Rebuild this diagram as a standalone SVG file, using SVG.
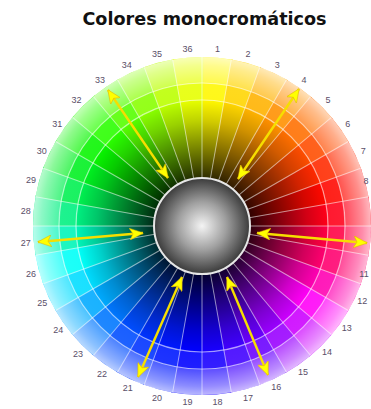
<svg xmlns="http://www.w3.org/2000/svg" xmlns:xlink="http://www.w3.org/1999/xlink" width="371" height="409" viewBox="0 0 371 409">
<style>
.lbl{font-family:"Liberation Sans",Arial,sans-serif;font-size:9px;fill:#5a4e68;text-anchor:middle}
.title{font-family:"DejaVu Sans",Verdana,sans-serif;font-weight:bold;font-size:17.6px;fill:#111;text-anchor:middle}
.spoke{stroke:#fff;stroke-opacity:.55;stroke-width:1}
.ring{fill:none;stroke:#fff;stroke-opacity:.6;stroke-width:1.2}
.shaft{stroke:#f6de00;stroke-width:2.4;fill:none;marker-start:url(#ah);marker-end:url(#ah)}
</style>
<defs>
<path id="w" d="M202,226 L202,57 A169,169 0 0 1 232.8,59.8 Z"/>
<line id="sp" x1="202" y1="178" x2="202" y2="57"/>
<radialGradient id="shade" gradientUnits="userSpaceOnUse" cx="202" cy="226" r="169">
<stop offset="0.284" stop-color="#000" stop-opacity="0.82"/>
<stop offset="0.45" stop-color="#000" stop-opacity="0.5"/>
<stop offset="0.62" stop-color="#000" stop-opacity="0.18"/>
<stop offset="0.745" stop-color="#000" stop-opacity="0"/>
<stop offset="0.746" stop-color="#fff" stop-opacity="0.1"/>
<stop offset="0.845" stop-color="#fff" stop-opacity="0.12"/>
<stop offset="0.847" stop-color="#fff" stop-opacity="0.3"/>
<stop offset="0.95" stop-color="#fff" stop-opacity="0.55"/>
<stop offset="1" stop-color="#fff" stop-opacity="0.72"/>
</radialGradient>
<radialGradient id="ball" cx="0.5" cy="0.5" r="0.5">
<stop offset="0" stop-color="#f4f4f4"/>
<stop offset="0.5" stop-color="#a0a0a0"/>
<stop offset="1" stop-color="#3a3a3a"/>
</radialGradient>
<marker id="ah" markerUnits="userSpaceOnUse" markerWidth="14" markerHeight="12" viewBox="0 0 14 12" refX="13.5" refY="6" orient="auto-start-reverse">
<path d="M0,0 L14,6 L0,12 L3.5,6 Z" fill="#ffff00" stroke="#e0b000" stroke-width="0.5"/>
</marker>
</defs>
<rect width="371" height="409" fill="#fff"/>
<text class="title" x="204.5" y="25">Colores monocromáticos</text>
<g id="wheel">
<use xlink:href="#w" fill="hsl(58,100%,50%)" transform="rotate(0 202 226)"/>
<use xlink:href="#w" fill="hsl(50,100%,50%)" transform="rotate(10 202 226)"/>
<use xlink:href="#w" fill="hsl(42,100%,50%)" transform="rotate(20 202 226)"/>
<use xlink:href="#w" fill="hsl(34,100%,50%)" transform="rotate(30 202 226)"/>
<use xlink:href="#w" fill="hsl(26,100%,50%)" transform="rotate(40 202 226)"/>
<use xlink:href="#w" fill="hsl(18,100%,50%)" transform="rotate(50 202 226)"/>
<use xlink:href="#w" fill="hsl(10,100%,50%)" transform="rotate(60 202 226)"/>
<use xlink:href="#w" fill="hsl(2,100%,50%)" transform="rotate(70 202 226)"/>
<use xlink:href="#w" fill="hsl(354,100%,50%)" transform="rotate(80 202 226)"/>
<use xlink:href="#w" fill="hsl(344,100%,50%)" transform="rotate(90 202 226)"/>
<use xlink:href="#w" fill="hsl(334,100%,50%)" transform="rotate(100 202 226)"/>
<use xlink:href="#w" fill="hsl(318,100%,50%)" transform="rotate(110 202 226)"/>
<use xlink:href="#w" fill="hsl(302,100%,50%)" transform="rotate(120 202 226)"/>
<use xlink:href="#w" fill="hsl(288,100%,50%)" transform="rotate(130 202 226)"/>
<use xlink:href="#w" fill="hsl(276,100%,50%)" transform="rotate(140 202 226)"/>
<use xlink:href="#w" fill="hsl(265,100%,50%)" transform="rotate(150 202 226)"/>
<use xlink:href="#w" fill="hsl(255,100%,50%)" transform="rotate(160 202 226)"/>
<use xlink:href="#w" fill="hsl(246,100%,50%)" transform="rotate(170 202 226)"/>
<use xlink:href="#w" fill="hsl(240,100%,50%)" transform="rotate(180 202 226)"/>
<use xlink:href="#w" fill="hsl(234,100%,50%)" transform="rotate(190 202 226)"/>
<use xlink:href="#w" fill="hsl(228,100%,50%)" transform="rotate(200 202 226)"/>
<use xlink:href="#w" fill="hsl(222,100%,50%)" transform="rotate(210 202 226)"/>
<use xlink:href="#w" fill="hsl(212,100%,50%)" transform="rotate(220 202 226)"/>
<use xlink:href="#w" fill="hsl(200,100%,50%)" transform="rotate(230 202 226)"/>
<use xlink:href="#w" fill="hsl(188,100%,50%)" transform="rotate(240 202 226)"/>
<use xlink:href="#w" fill="hsl(178,100%,50%)" transform="rotate(250 202 226)"/>
<use xlink:href="#w" fill="hsl(165,100%,48%)" transform="rotate(260 202 226)"/>
<use xlink:href="#w" fill="hsl(152,100%,47%)" transform="rotate(270 202 226)"/>
<use xlink:href="#w" fill="hsl(140,100%,47%)" transform="rotate(280 202 226)"/>
<use xlink:href="#w" fill="hsl(128,100%,47%)" transform="rotate(290 202 226)"/>
<use xlink:href="#w" fill="hsl(118,100%,48%)" transform="rotate(300 202 226)"/>
<use xlink:href="#w" fill="hsl(110,100%,50%)" transform="rotate(310 202 226)"/>
<use xlink:href="#w" fill="hsl(100,100%,50%)" transform="rotate(320 202 226)"/>
<use xlink:href="#w" fill="hsl(88,100%,50%)" transform="rotate(330 202 226)"/>
<use xlink:href="#w" fill="hsl(76,100%,50%)" transform="rotate(340 202 226)"/>
<use xlink:href="#w" fill="hsl(66,100%,50%)" transform="rotate(350 202 226)"/>
<circle cx="202" cy="226" r="169" fill="url(#shade)"/>
<g class="spoke">
<use xlink:href="#sp" transform="rotate(0 202 226)"/><use xlink:href="#sp" transform="rotate(10 202 226)"/><use xlink:href="#sp" transform="rotate(20 202 226)"/><use xlink:href="#sp" transform="rotate(30 202 226)"/><use xlink:href="#sp" transform="rotate(40 202 226)"/><use xlink:href="#sp" transform="rotate(50 202 226)"/><use xlink:href="#sp" transform="rotate(60 202 226)"/><use xlink:href="#sp" transform="rotate(70 202 226)"/><use xlink:href="#sp" transform="rotate(80 202 226)"/><use xlink:href="#sp" transform="rotate(90 202 226)"/><use xlink:href="#sp" transform="rotate(100 202 226)"/><use xlink:href="#sp" transform="rotate(110 202 226)"/><use xlink:href="#sp" transform="rotate(120 202 226)"/><use xlink:href="#sp" transform="rotate(130 202 226)"/><use xlink:href="#sp" transform="rotate(140 202 226)"/><use xlink:href="#sp" transform="rotate(150 202 226)"/><use xlink:href="#sp" transform="rotate(160 202 226)"/><use xlink:href="#sp" transform="rotate(170 202 226)"/><use xlink:href="#sp" transform="rotate(180 202 226)"/><use xlink:href="#sp" transform="rotate(190 202 226)"/><use xlink:href="#sp" transform="rotate(200 202 226)"/><use xlink:href="#sp" transform="rotate(210 202 226)"/><use xlink:href="#sp" transform="rotate(220 202 226)"/><use xlink:href="#sp" transform="rotate(230 202 226)"/><use xlink:href="#sp" transform="rotate(240 202 226)"/><use xlink:href="#sp" transform="rotate(250 202 226)"/><use xlink:href="#sp" transform="rotate(260 202 226)"/><use xlink:href="#sp" transform="rotate(270 202 226)"/><use xlink:href="#sp" transform="rotate(280 202 226)"/><use xlink:href="#sp" transform="rotate(290 202 226)"/><use xlink:href="#sp" transform="rotate(300 202 226)"/><use xlink:href="#sp" transform="rotate(310 202 226)"/><use xlink:href="#sp" transform="rotate(320 202 226)"/><use xlink:href="#sp" transform="rotate(330 202 226)"/><use xlink:href="#sp" transform="rotate(340 202 226)"/><use xlink:href="#sp" transform="rotate(350 202 226)"/>
</g>
<circle class="ring" cx="202" cy="226" r="126"/>
<circle class="ring" cx="202" cy="226" r="143"/>
</g>
<g id="sphere">
<circle cx="202" cy="226" r="48" fill="url(#ball)" stroke="#e6e6e6" stroke-width="2"/>
</g>
<g id="connectors">
<line class="shaft" x1="108" y1="90" x2="168" y2="178"/>
<line class="shaft" x1="299" y1="89" x2="238" y2="179"/>
<line class="shaft" x1="38" y1="242" x2="143" y2="233"/>
<line class="shaft" x1="257" y1="233" x2="367" y2="243"/>
<line class="shaft" x1="182" y1="277" x2="138" y2="377"/>
<line class="shaft" x1="227" y1="277" x2="268" y2="375"/>
</g>
<g id="labels">
<text class="lbl" x="217.5" y="51.7">1</text>
<text class="lbl" x="248.1" y="57.1">2</text>
<text class="lbl" x="277.2" y="67.7">3</text>
<text class="lbl" x="304.1" y="83.2">4</text>
<text class="lbl" x="327.9" y="103.1">5</text>
<text class="lbl" x="347.8" y="126.9">6</text>
<text class="lbl" x="363.3" y="153.8">7</text>
<text class="lbl" x="366" y="184">8</text>
<text class="lbl" x="364" y="277">11</text>
<text class="lbl" x="362.3" y="304.2">12</text>
<text class="lbl" x="346.8" y="331.1">13</text>
<text class="lbl" x="326.9" y="354.9">14</text>
<text class="lbl" x="303.1" y="374.8">15</text>
<text class="lbl" x="276.2" y="390.3">16</text>
<text class="lbl" x="248.1" y="400.9">17</text>
<text class="lbl" x="217.5" y="405.3">18</text>
<text class="lbl" x="187.5" y="405.3">19</text>
<text class="lbl" x="156.9" y="400.9">20</text>
<text class="lbl" x="127.8" y="391.3">21</text>
<text class="lbl" x="101.9" y="376.8">22</text>
<text class="lbl" x="78.1" y="356.9">23</text>
<text class="lbl" x="58.2" y="333.1">24</text>
<text class="lbl" x="42.2" y="306.2">25</text>
<text class="lbl" x="31.1" y="277.1">26</text>
<text class="lbl" x="25.7" y="245.5">27</text>
<text class="lbl" x="25.7" y="213.5">28</text>
<text class="lbl" x="31.1" y="182.9">29</text>
<text class="lbl" x="41.7" y="153.8">30</text>
<text class="lbl" x="57.2" y="126.9">31</text>
<text class="lbl" x="76.6" y="103.1">32</text>
<text class="lbl" x="99.9" y="83.2">33</text>
<text class="lbl" x="126.8" y="67.7">34</text>
<text class="lbl" x="156.9" y="57.1">35</text>
<text class="lbl" x="187.5" y="51.7">36</text>
</g>
</svg>
